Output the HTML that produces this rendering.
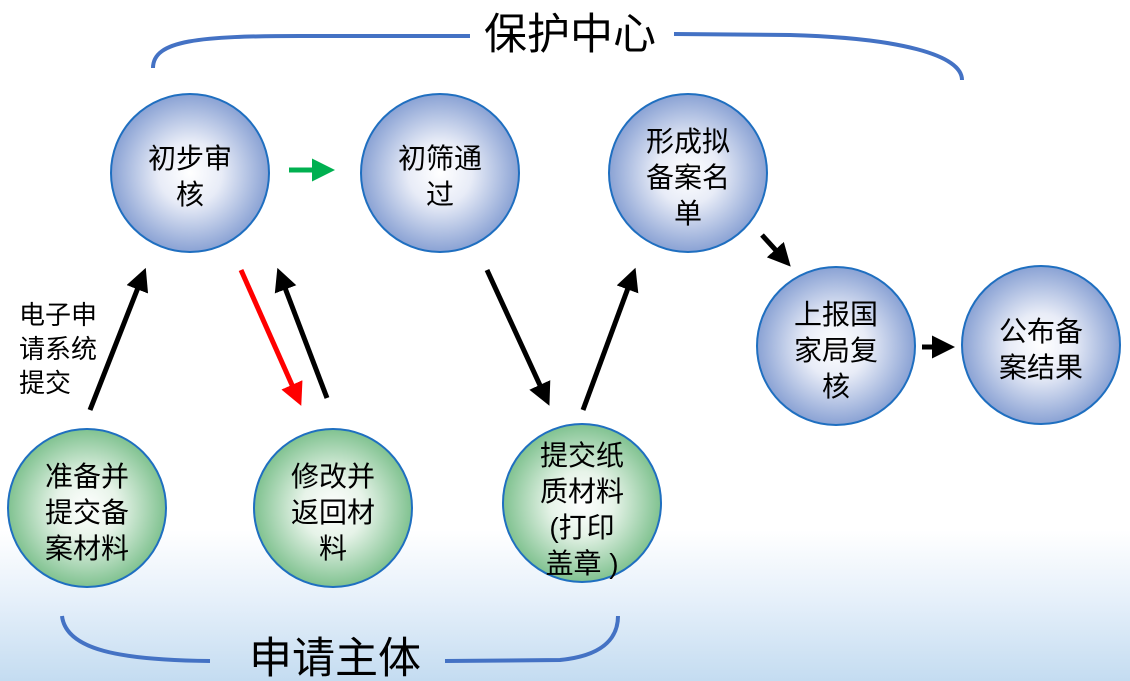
<!DOCTYPE html>
<html><head><meta charset="utf-8">
<style>
html,body{margin:0;padding:0;}
body{width:1130px;height:681px;overflow:hidden;background:linear-gradient(to bottom,#fff 0px,#fff 530px,#e6f0fa 600px,#c4dcf1 681px);}
svg{display:block;}
text{font-family:"Liberation Sans","Noto Sans CJK SC",sans-serif;fill:#000;}
</style></head><body>
<svg width="1130" height="681" viewBox="0 0 1130 681">
<defs>
<radialGradient id="b" cx="50%" cy="50%" r="50%">
<stop offset="0" stop-color="#ffffff"/><stop offset="0.4" stop-color="#e8ecf7"/><stop offset="1" stop-color="#8aa2d4"/>
</radialGradient>
<radialGradient id="g" cx="50%" cy="50%" r="50%">
<stop offset="0" stop-color="#ffffff"/><stop offset="0.4" stop-color="#e6f3e8"/><stop offset="1" stop-color="#80c290"/>
</radialGradient>
<marker id="ak" markerWidth="4.6" markerHeight="4.6" refX="2" refY="2.3" orient="auto" markerUnits="strokeWidth" viewBox="0 0 4.6 4.6"><path d="M0,0 L4.6,2.3 L0,4.6 z" fill="#000"/></marker>
<marker id="ar" markerWidth="4.6" markerHeight="4.6" refX="2" refY="2.3" orient="auto" markerUnits="strokeWidth" viewBox="0 0 4.6 4.6"><path d="M0,0 L4.6,2.3 L0,4.6 z" fill="#f00"/></marker>
<marker id="ag" markerWidth="4.6" markerHeight="4.6" refX="2" refY="2.3" orient="auto" markerUnits="strokeWidth" viewBox="0 0 4.6 4.6"><path d="M0,0 L4.6,2.3 L0,4.6 z" fill="#00b050"/></marker>
</defs>

<path d="M153,68 C153,40 200,36 300,36 L470,36" fill="none" stroke="#4472c4" stroke-width="4"/>
<path d="M674,34 L790,35 C900,38 962,55 962,80" fill="none" stroke="#4472c4" stroke-width="4"/>
<path d="M62,616 C66,650 120,660 210,661" fill="none" stroke="#4472c4" stroke-width="4"/>
<path d="M445,661 L560,660 C600,656 618,640 618,616" fill="none" stroke="#4472c4" stroke-width="4"/>
<text x="570" y="49" font-size="43" text-anchor="middle">保护中心</text>
<text x="335" y="673" font-size="43" text-anchor="middle">申请主体</text>

<g stroke-width="5" fill="none">
<line x1="289" y1="170" x2="322" y2="170" stroke="#00b050" marker-end="url(#ag)"/>
<line x1="90" y1="410" x2="141" y2="280" stroke="#000" marker-end="url(#ak)"/>
<line x1="241" y1="270" x2="296" y2="394" stroke="#f00" marker-end="url(#ar)"/>
<line x1="327" y1="398" x2="282" y2="280" stroke="#000" marker-end="url(#ak)"/>
<line x1="487" y1="270" x2="544" y2="394" stroke="#000" marker-end="url(#ak)"/>
<line x1="583" y1="410" x2="631" y2="280" stroke="#000" marker-end="url(#ak)"/>
<line x1="762" y1="235" x2="782" y2="257" stroke="#000" marker-end="url(#ak)"/>
<line x1="922" y1="347" x2="942" y2="347" stroke="#000" marker-end="url(#ak)"/>
</g>

<g stroke="#1f6fc0" stroke-width="2">
<circle cx="190" cy="173" r="79" fill="url(#b)"/>
<circle cx="440" cy="173" r="79" fill="url(#b)"/>
<circle cx="688" cy="173" r="79" fill="url(#b)"/>
<circle cx="836" cy="346" r="79" fill="url(#b)"/>
<circle cx="1041" cy="345" r="79" fill="url(#b)"/>
<circle cx="87" cy="508" r="79" fill="url(#g)"/>
<circle cx="333" cy="508" r="79" fill="url(#g)"/>
<circle cx="582" cy="503" r="79" fill="url(#g)"/>
</g>

<g font-size="28" text-anchor="middle">
<text x="190" y="168">初步审</text><text x="190" y="204">核</text>
<text x="440" y="168">初筛通</text><text x="440" y="204">过</text>
<text x="688" y="151">形成拟</text><text x="688" y="187">备案名</text><text x="688" y="223">单</text>
<text x="836" y="324">上报国</text><text x="836" y="360">家局复</text><text x="836" y="396">核</text>
<text x="1041" y="341">公布备</text><text x="1041" y="377">案结果</text>
<text x="87" y="486">准备并</text><text x="87" y="522">提交备</text><text x="87" y="558">案材料</text>
<text x="333" y="486">修改并</text><text x="333" y="522">返回材</text><text x="333" y="558">料</text>
<text x="582" y="465">提交纸</text><text x="582" y="501">质材料</text><text x="582" y="537">(打印</text><text x="582" y="573">盖章 )</text>
</g>
<g font-size="26">
<text x="19" y="324">电子申</text><text x="19" y="358">请系统</text><text x="19" y="392">提交</text>
</g>
</svg>
</body></html>
